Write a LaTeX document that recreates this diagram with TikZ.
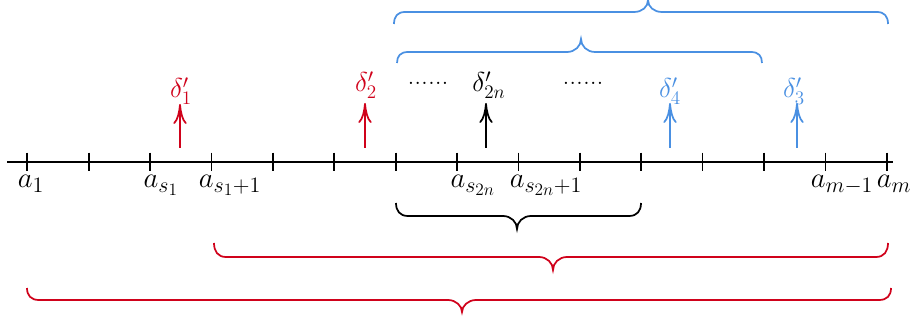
\RequirePackage{fix-cm}
\documentclass[tikz,border=0pt]{standalone}
\usetikzlibrary{arrows.meta}

\DeclareMathSizes{21.5}{21.5}{16.5}{13}

\definecolor{redd}{RGB}{208,2,27}
\definecolor{blued}{RGB}{74,144,226}

\tikzset{every picture/.style={line width=1.3pt}}
\tikzset{
	alab/.style={anchor=base, inner sep=0pt, font=\fontsize{21.5}{26}\selectfont},
	dlab/.style={anchor=base, inner sep=0pt, font=\fontsize{20.5}{25}\selectfont},
	uparrow/.style={-{To[length=15pt,width=10pt]}},
}

\begin{document}
\begin{tikzpicture}[x=0.75pt,y=0.75pt,yscale=-1,xscale=1]
	\path[use as bounding box] (0,0) rectangle (913,320);

	%Straight Lines: axis
	\draw    (7,162) -- (893,162) ;
	%Ticks
	\foreach \i in {0,...,14}
	{\coordinate (t\i) at (27.3+61.39*\i,162);
	 \draw    ([yshift=-7pt]t\i) -- ([yshift=7pt]t\i) ;}

	%Arrows
	\coordinate (p1) at (180,148); \coordinate (q1) at (180,104);
	\coordinate (p2) at (365,148); \coordinate (q2) at (365,103);
	\coordinate (p3) at (486,148); \coordinate (q3) at (486,103);
	\coordinate (p4) at (670,148); \coordinate (q4) at (670,103);
	\coordinate (p5) at (797,148); \coordinate (q5) at (797,103);
	\draw [redd, uparrow]   (p1) -- (q1) ;
	\draw [redd, uparrow]   (p2) -- (q2) ;
	\draw [uparrow]   (p3) -- (q3) ;
	\draw [blued, uparrow]   (p4) -- (q4) ;
	\draw [blued, uparrow]   (p5) -- (q5) ;

	%Shape: Brace (top, blue)
	\draw [blued]  (394,24) .. controls (394,16.5) and (397.5,12) .. (405,12) -- (634,12) .. controls (642,12) and (648,7) .. (648,0) .. controls (648,7) and (654,12) .. (662,12) -- (877,12) .. controls (884.5,12) and (888,16.5) .. (888,24) ;
	%Shape: Brace (blue)
	\draw [blued]  (397,63) .. controls (397,56) and (400.5,52) .. (408,52) -- (567,52) .. controls (575,52) and (581,46) .. (581,39) .. controls (581,46) and (587,52) .. (595,52) -- (751,52) .. controls (758.5,52) and (762,56) .. (762,63) ;
	%Shape: Brace (black)
	\draw   (396,203) .. controls (396,211) and (400,216) .. (408,216) -- (503,216) .. controls (511,216) and (517,222) .. (517,229) .. controls (517,222) and (523,216) .. (531,216) -- (629,216) .. controls (637,216) and (641,211) .. (641,203) ;
	%Shape: Brace (red)
	\draw [redd]  (214,243) .. controls (214,251.5) and (218,257) .. (226,257) -- (539,257) .. controls (547,257) and (553,263) .. (553,270) .. controls (553,263) and (559,257) .. (567,257) -- (876,257) .. controls (884,257) and (888,251.5) .. (888,243) ;
	%Shape: Brace (red)
	\draw [redd]  (27,288) .. controls (27,295.5) and (31,300) .. (39,300) -- (448,300) .. controls (456,300) and (462,306) .. (462,312) .. controls (462,306) and (468,300) .. (476,300) -- (879,300) .. controls (887,300) and (891,295.5) .. (891,288) ;

	% Text Node
	\node [alab] (la1) at (31,188) {$a_{1}$};
	\node [alab] (las1) at (161,188) {$a_{s_{1}}$};
	\node [alab] (las1p) at (230,188) {$a_{s_{1}+1}$};
	\node [alab] (las2n) at (473,188) {$a_{s_{2n}}$};
	\node [alab] (las2np) at (546,188) {$a_{s_{2n}+1}$};
	\node [alab] (lam1) at (842,188) {$a_{m-1}$};
	\node [alab] (lam) at (894,188) {$a_{m}$};
	% Text Node
	\node [dlab, redd] (d1) at (181,98) {$\delta'_{1}$};
	\node [dlab, redd] (d2) at (366,92) {$\delta'_{2}$};
	\node [dlab] (d2n) at (489,92) {$\delta'_{2n}$};
	\node [dlab, blued] (d4) at (670,98) {$\delta'_{4}$};
	\node [dlab, blued] (d3) at (794,98) {$\delta'_{3}$};
	\node [dlab] (dotsl) at (428,85) {......};
	\node [dlab] (dotsr) at (583,85) {......};

\end{tikzpicture}
\end{document}
